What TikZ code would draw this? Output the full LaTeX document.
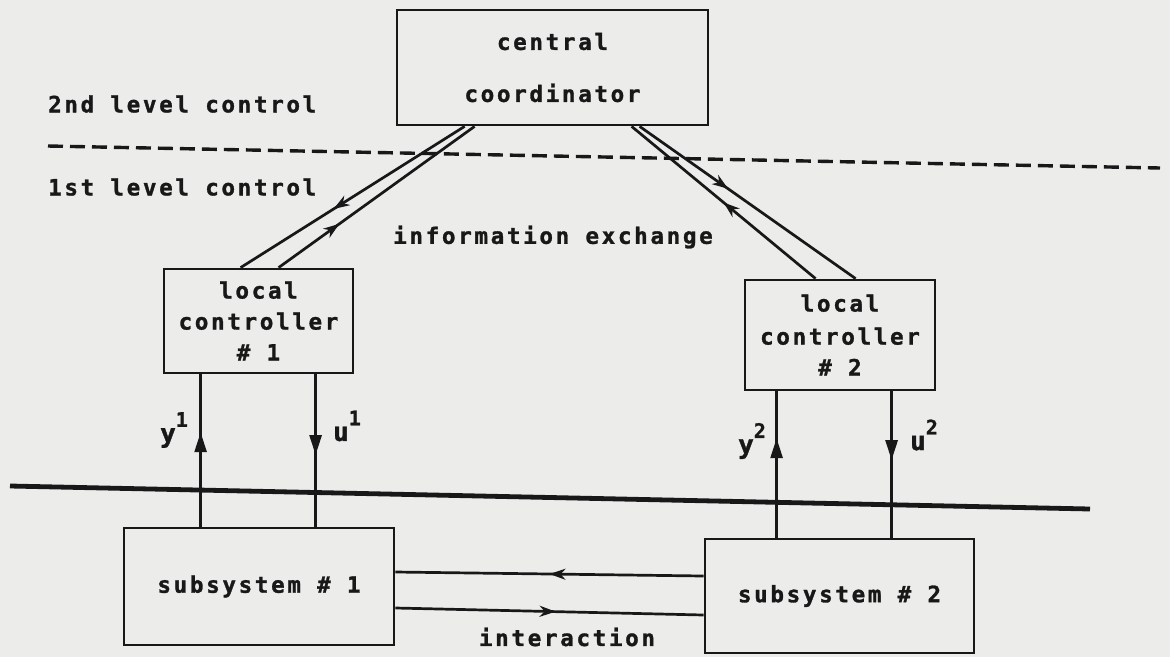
\documentclass[tikz,border=0pt]{standalone}
\usepackage{fontspec}
\newfontfamily\plotfont{DejaVu Sans Mono}[LetterSpace=12, BoldFeatures={FakeBold=1.3}]
\usetikzlibrary{arrows.meta,decorations.markings,calc}
\definecolor{paper}{RGB}{236,236,234}
\definecolor{ink}{RGB}{24,24,24}
\newcommand\supnum[1]{\raisebox{0.6em}{\fontsize{20}{20}\selectfont #1}}
\begin{document}
\begin{tikzpicture}[x=1pt,y=-1pt,
  txt/.style={font=\plotfont\bfseries\fontsize{22.5}{31}\selectfont, text=ink, inner sep=0pt},
  lbl/.style={font=\plotfont\bfseries\fontsize{26}{26}\selectfont, text=ink, inner sep=0pt},
  box/.style={txt, draw=ink, line width=2.8pt, align=center},
  conn/.style={draw=ink, line width=2.7pt},
  midarrow/.style={postaction={decorate}, decoration={markings, mark=at position #1 with {\arrow{Stealth[length=16pt,width=11pt,inset=5pt]}}}},
  vmid/.style={postaction={decorate}, decoration={markings, mark=at position #1 with {\arrow{Triangle[length=20pt,width=12pt]}}}}
]
\fill[paper] (0,0) rectangle (1170,657);
\useasboundingbox (0,0) rectangle (1170,657);

% boxes
\node[box, minimum width=311pt, minimum height=115pt] (cc) at (552.5,67.5) {central\\[21pt]coordinator};
\node[box, minimum width=189pt, minimum height=104pt] (lc1) at (258.5,321) {local\\controller\\\# 1};
\node[box, minimum width=190pt, minimum height=110pt] (lc2) at (840,335) {local\\[2pt]controller\\\# 2};
\node[box, minimum width=270pt, minimum height=117pt] (ss1) at (259,586.5) {subsystem \# 1};
\node[box, minimum width=269pt, minimum height=114pt] (ss2) at (839.5,596) {subsystem \# 2};

% level lines
\coordinate (dl1) at (48,146);
\coordinate (dl2) at (1160,168);
\draw[ink, line width=3.4pt, dash pattern=on 15pt off 7pt] (dl1) -- (dl2);
\coordinate (tl1) at (10,486);
\coordinate (tl2) at (1090,509);
\draw[ink, line width=4.8pt] (tl1) -- (tl2);

% texts
\node[txt, anchor=west] (l2nd) at (48,104) {2nd level control};
\node[txt, anchor=west] (l1st) at (48,187) {1st level control};
\node[txt] (info) at (553,237) {information exchange};
\node[txt] (inter) at (567,637) {interaction};

% information exchange connectors
\draw[conn, midarrow=0.585] ([xshift=69pt]cc.south west) -- ([xshift=78pt]lc1.north west);
\draw[conn, midarrow=0.31] ([xshift=116pt]lc1.north west) -- ([xshift=79pt]cc.south west);
\draw[conn, midarrow=0.41] ([xshift=244pt]cc.south west) -- ([xshift=112pt]lc2.north west);
\draw[conn, midarrow=0.5] ([xshift=72pt]lc2.north west) -- ([xshift=236pt]cc.south west);

% measurement / control lines
\draw[conn, vmid=0.62] ([xshift=78pt]ss1.north west) -- ([xshift=38pt]lc1.south west);
\draw[conn, vmid=0.53] ([xshift=153pt]lc1.south west) -- ([xshift=193pt]ss1.north west);
\draw[conn, vmid=0.68] ([xshift=73pt]ss2.north west) -- ([xshift=33pt]lc2.south west);
\draw[conn, vmid=0.47] ([xshift=148pt]lc2.south west) -- ([xshift=188pt]ss2.north west);

\node[lbl] (ly1) at (174,430) {y\supnum{1}};
\node[lbl] (lu1) at (347,426) {u\supnum{1}};
\node[lbl] (ly2) at (752,441) {y\supnum{2}};
\node[lbl] (lu2) at (924,435) {u\supnum{2}};

% interaction
\draw[conn, midarrow=0.5] ([yshift=20pt]ss2.west) -- ([yshift=14.5pt]ss1.east);
\draw[conn, midarrow=0.52] ([yshift=-21.5pt]ss1.east) -- ([yshift=-19pt]ss2.west);
\end{tikzpicture}
\end{document}
